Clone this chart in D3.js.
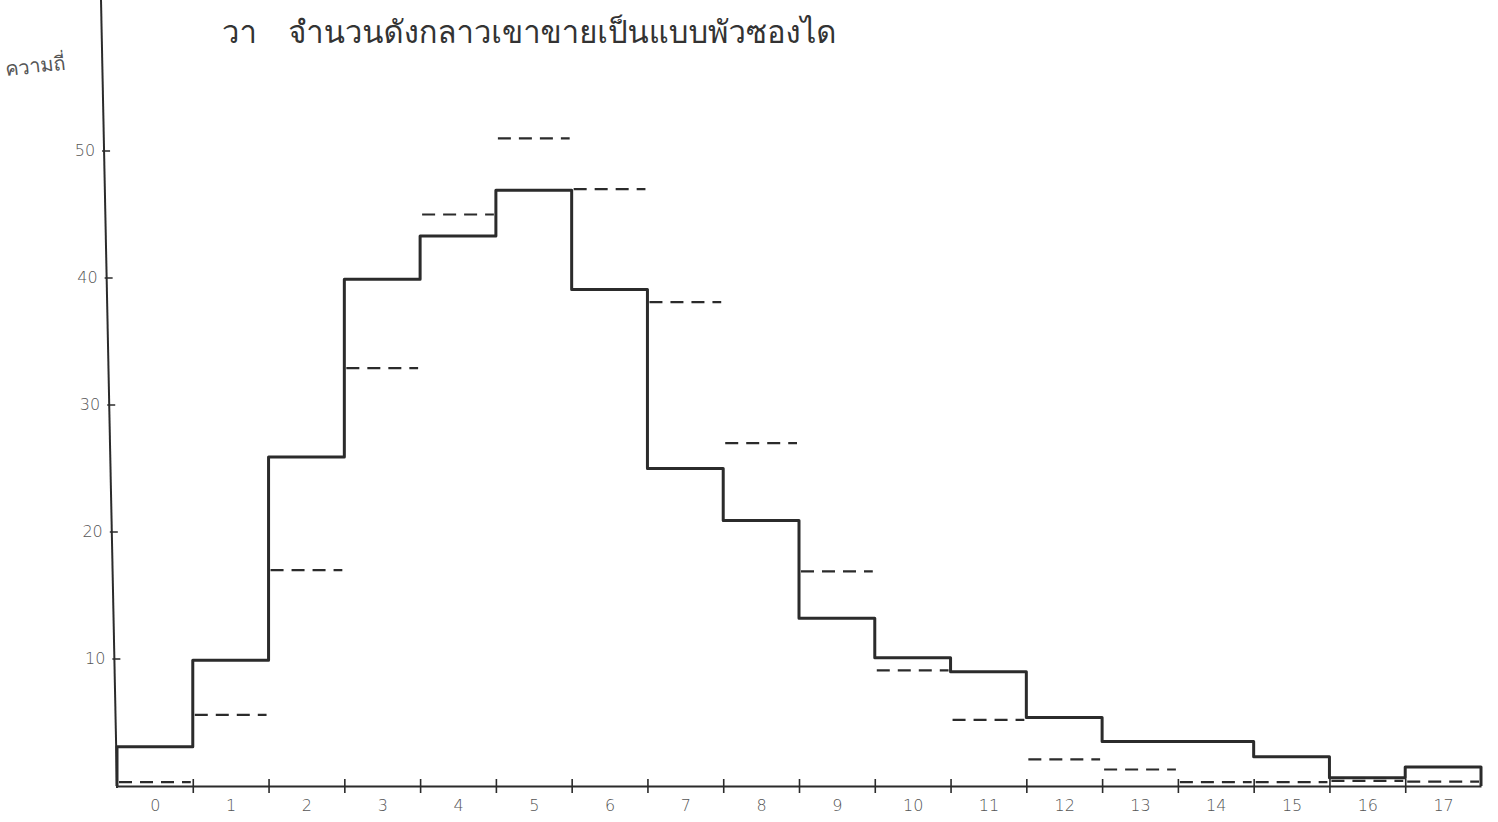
<!DOCTYPE html>
<html>
<head>
<meta charset="utf-8">
<script src="https://cdn.jsdelivr.net/npm/d3@7"></script>
<style>
  body { margin: 0; background: #fff; }
  svg { display: block; }
</style>
</head>
<body>
<div id="chart"></div>
<script>
// number of events per interval (0..17)
const categories = ["0","1","2","3","4","5","6","7","8","9","10","11","12","13","14","15","16","17"];
// observed frequency (solid step line)
const observed = [3.1, 9.9, 25.9, 39.9, 43.3, 46.9, 39.1, 25.0, 20.9, 13.2, 10.1, 9.0, 5.4, 3.5, 3.5, 2.3, 0.65, 1.5];
// expected Poisson frequency (dashed)
const expected = [0.3, 5.6, 17.0, 32.9, 45.0, 51.0, 47.0, 38.1, 27.0, 16.9, 9.1, 5.2, 2.1, 1.3, 0.3, 0.3, 0.4, 0.35];
const yTicks = [10, 20, 30, 40, 50];
const yTickLabels = ["10", "20", "30", "40", "50"];
const titleText = "วา   จำนวนดังกลาวเขาขายเป็นแบบพัวซองได";
const yLabel = "ความถี่";

const width = 1498, height = 822;
const ink = "#2b2b2b";

const svg = d3.select("#chart").append("svg")
    .attr("width", width)
    .attr("height", height);

const x = d3.scaleLinear()
    .domain([0, categories.length])
    .range([117, 1481]);
const y = d3.scaleLinear()
    .domain([0, 50])
    .range([786, 151]);

// the hand drawn y axis leans a little to the left at the top
const axisTopX = 101, axisBottomX = 117, axisBottomY = 788;
const axisXAt = (py) => axisTopX + (axisBottomX - axisTopX) * py / axisBottomY;

svg.append("line")
    .attr("x1", axisTopX).attr("y1", 0)
    .attr("x2", axisBottomX).attr("y2", axisBottomY)
    .attr("stroke", ink)
    .attr("stroke-width", 2);

const gY = svg.append("g")
    .call(d3.axisLeft(y)
        .tickValues(yTicks)
        .tickFormat((d, i) => yTickLabels[i])
        .tickSize(0)
        .tickPadding(9));
gY.select(".domain").remove();
gY.selectAll(".tick")
    .attr("transform", d => "translate(" + axisXAt(y(d)) + "," + y(d) + ")");
gY.selectAll(".tick line")
    .attr("x1", -2).attr("x2", 6)
    .attr("stroke", ink).attr("stroke-width", 1.5);
gY.selectAll(".tick text")
    .style("font-family", "'DejaVu Sans', sans-serif")
    .style("font-size", "16px")
    .style("font-weight", "300")
    .attr("fill", "#555");

// x axis baseline with boundary ticks
const gX = svg.append("g")
    .attr("transform", "translate(0," + y(0) + ")")
    .call(d3.axisBottom(x)
        .tickValues(d3.range(1, categories.length))
        .tickFormat("")
        .tickSizeOuter(0));
gX.select(".domain")
    .attr("stroke", ink)
    .attr("stroke-width", 2);
gX.selectAll(".tick line")
    .attr("y1", -7).attr("y2", 7)
    .attr("stroke", ink).attr("stroke-width", 1.6);

// category labels under bin centres
const gXL = svg.append("g")
    .attr("transform", "translate(0," + (y(0) + 11) + ")")
    .call(d3.axisBottom(x)
        .tickValues(categories.map((c, i) => i + 0.5))
        .tickFormat((d, i) => categories[i])
        .tickSize(0));
gXL.select(".domain").remove();
gXL.selectAll(".tick text")
    .style("font-family", "'DejaVu Sans', sans-serif")
    .style("font-size", "16px")
    .style("font-weight", "300")
    .attr("fill", "#555");

// observed: solid step outline
const stepPts = [[0, 0]]
    .concat(observed.map((v, i) => [i, v]))
    .concat([[categories.length, observed[observed.length - 1]], [categories.length, 0]]);
svg.append("path")
    .datum(stepPts)
    .attr("fill", "none")
    .attr("stroke", ink)
    .attr("stroke-width", 3)
    .attr("stroke-linejoin", "round")
    .attr("d", d3.line()
        .x(d => x(d[0]))
        .y(d => y(d[1]))
        .curve(d3.curveStepAfter));

// expected: dashed level per bin
svg.append("g")
    .selectAll("line")
    .data(expected)
    .join("line")
    .attr("x1", (d, i) => x(i) + 2)
    .attr("x2", (d, i) => x(i + 1) - 2)
    .attr("y1", d => y(d))
    .attr("y2", d => y(d))
    .attr("stroke", ink)
    .attr("stroke-width", 2.2)
    .attr("stroke-dasharray", "13,8");

// title (second line of the typed caption)
svg.append("text")
    .attr("x", 222)
    .attr("y", 43)
    .style("white-space", "pre")
    .style("font-family", "'Norasi', 'TlwgTypist', 'Loma', 'Garuda', 'Noto Sans Thai', serif")
    .style("font-size", "31px")
    .attr("fill", "#333")
    .text(titleText);

// y label
svg.append("text")
    .attr("transform", "translate(6,76) rotate(-6)")
    .style("font-family", "'Noto Sans', sans-serif")
    .style("font-size", "20px")
    .attr("fill", "#555")
    .text(yLabel);
</script>
</body>
</html>
